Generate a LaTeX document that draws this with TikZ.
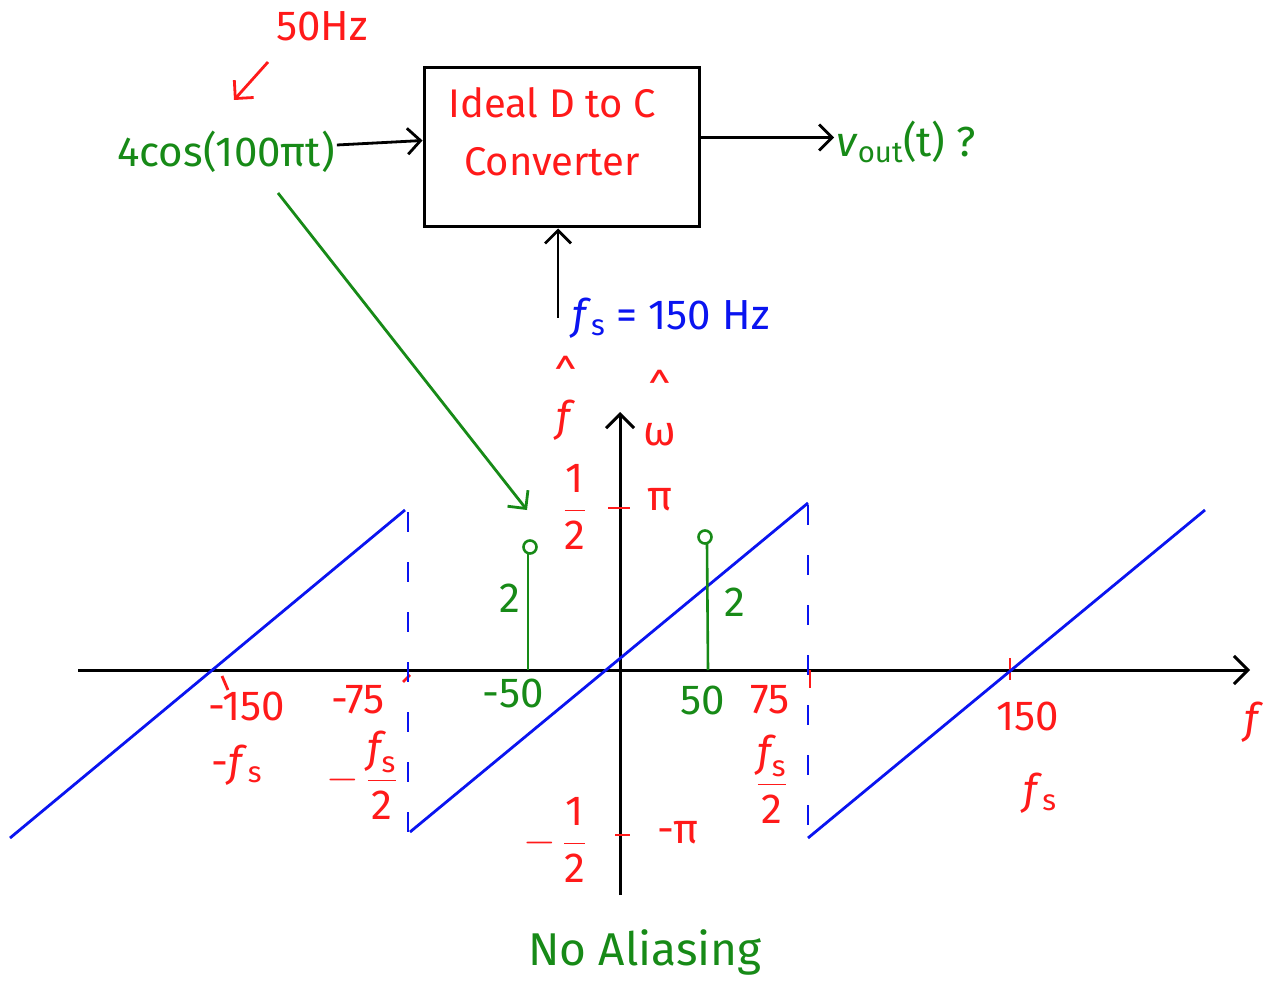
\RequirePackage{fix-cm}
\documentclass[tikz,border=0pt]{standalone}
\usepackage{amsmath}
\usepackage{fontspec}
\setmainfont{Fira Sans}
\usetikzlibrary{arrows.meta,positioning,calc}
\definecolor{ink}{HTML}{000000}
\definecolor{pen}{HTML}{FF1A1A}
\definecolor{leaf}{HTML}{178A17}
\definecolor{sky}{HTML}{0A14F0}
\tikzset{
  every node/.style={font=\fontsize{42}{48}\selectfont, inner sep=2pt},
  redlbl/.style={text=pen, align=center},
  greenlbl/.style={text=leaf, align=center},
  bluelbl/.style={text=sky, align=center},
  arr/.style={-{Straight Barb[length=13pt,width=26pt]}, draw=ink, line width=2.8pt},
  axis/.style={-{Straight Barb[length=14pt,width=28pt]}, draw=ink, line width=3pt},
  saw/.style={draw=sky, line width=2.8pt},
  gap/.style={draw=sky, line width=2.8pt, dash pattern=on 20pt off 30pt},
  tick/.style={draw=pen, line width=2.8pt},
  stem/.style={draw=leaf, line width=2.6pt},
}
\begin{document}
\begin{tikzpicture}[x=1pt, y=-1pt]
  \useasboundingbox (0,0) rectangle (1269,984);

  % ---- top: converter block -----------------------------------------------
  \node[draw=ink, line width=3pt, minimum width=275pt, minimum height=159pt] (conv) at (561.5,147.5) {};
  \node[redlbl, font=\fontsize{40}{58}\selectfont] (convtxt) at (552,132) {Ideal D to C\\Converter};
  \node[greenlbl] (xin) at (226,152) {4cos(100πt)};
  \node[redlbl] (hz) at (322,26) {50Hz};
  \node[greenlbl, anchor=west] (vout) at (834,142) {\textit{v}\textsubscript{out}(t) ?};
  \node[bluelbl, anchor=west] (fs) at (570,318) {\textit{f}\textsubscript{s} = 150 Hz};
  \coordinate (hztail) at (268,62);
  \coordinate (hzhead) at (234,100);
  \coordinate (fsfoot) at (558,318);
  \coordinate (xfoot) at (278,193);
  \coordinate (xhead) at (527,510);

  \draw[arr, draw=pen] (hztail) -- (hzhead);
  \draw[arr] ([yshift=7pt]xin.east) -- ([yshift=7pt]conv.west);
  \draw[arr] ([yshift=10pt]conv.east) -- ([yshift=10pt]conv.east -| vout.west);
  \draw[arr] (fsfoot) -- (fsfoot |- conv.south);
  \draw[arr, draw=leaf] (xfoot) -- (xhead);

  % ---- bottom: spectrum axes ----------------------------------------------
  \coordinate (fl) at (78,670);
  \coordinate (fr) at (1250,670);
  \coordinate (wb) at (620,895);
  \coordinate (wt) at (620,412);
  \draw[axis] (fl) -- (fr);
  \draw[axis] (wb) -- (wt);
  \node[redlbl] (flbl) at (1254,722) {\textit{f}};
  \node[redlbl, inner sep=0pt, font=\fontsize{42}{40}\selectfont] (fhat) at (566,398) {\textasciicircum\\\textit{f}};
  \node[redlbl, inner sep=0pt, font=\fontsize{42}{40}\selectfont] (what) at (660,408) {\textasciicircum\\ω};

  % ticks on the vertical axis
  \draw[tick] (608,508) -- (630,508);
  \draw[tick] (615,835) -- (630,835);
  \node[redlbl, inner sep=0pt] (half) at (575,507) {$\dfrac{\text{1}}{\text{2}}$};
  \node[redlbl] (pi) at (660,500) {π};
  \node[redlbl, inner sep=0pt] (mhalf) at (555,840) {$-\,\dfrac{\text{1}}{\text{2}}$};
  \node[redlbl] (mpi) at (678,833) {-π};

  % ticks on the frequency axis
  \draw[tick] (222,676) -- (228,690);
  \draw[tick] (403,682) -- (410,675);
  \draw[tick] (810,670) -- (810,688);
  \draw[tick] (1010,658) -- (1010,680);

  % periodic digital frequency
  \draw[saw] (10,838) -- (405,510);
  \draw[saw] (410,832) -- (808,503);
  \draw[saw] (808,838) -- (1205,510);
  \draw[gap] (408,512) -- (408,832);
  \draw[gap] (808,505) -- (808,838);

  % spectral lines
  \draw[stem] (528,670) -- (528,554);
  \draw[stem] (530,547) circle (6.5);
  \draw[stem] (708,670) -- (707,544);
  \draw[stem] (705,537) circle (6.5);
  \node[greenlbl] (amp1) at (510,598) {2};
  \node[greenlbl] (amp2) at (735,602) {2};

  % frequency labels
  \node[redlbl] (m150) at (247,706) {-150};
  \node[redlbl] (mfs) at (237,765) {-\textit{f}\textsubscript{s}};
  \node[redlbl] (m75) at (358,700) {-75};
  \node[redlbl, inner sep=0pt] (mfs2) at (362,775) {$-\,\dfrac{\textit{f}_{\text{s}}}{\text{2}}$};
  \node[greenlbl] (m50) at (513,693) {-50};
  \node[greenlbl] (p50) at (703,700) {50};
  \node[redlbl] (p75) at (770,700) {75};
  \node[redlbl, inner sep=0pt] (pfs2) at (772,779) {$\dfrac{\textit{f}_{\text{s}}}{\text{2}}$};
  \node[redlbl] (p150) at (1028,716) {150};
  \node[redlbl] (pfs) at (1040,793) {\textit{f}\textsubscript{s}};

  \node[greenlbl, font=\fontsize{46}{52}\selectfont] (note) at (645,952) {No Aliasing};
\end{tikzpicture}
\end{document}
